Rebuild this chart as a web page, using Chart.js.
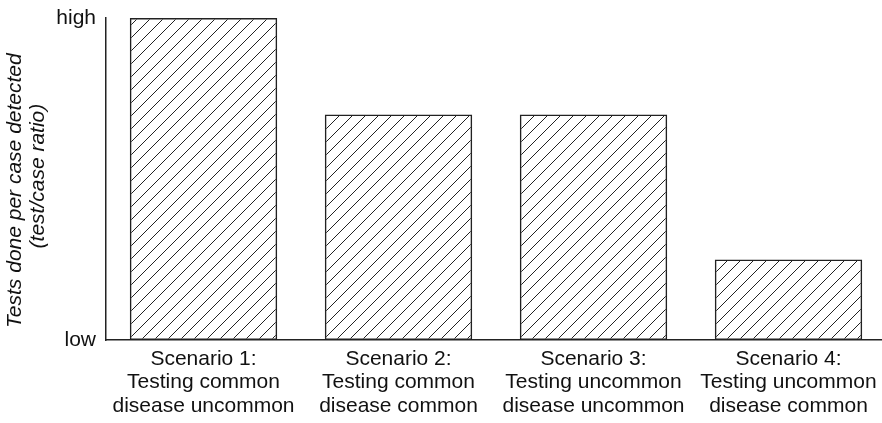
<!DOCTYPE html>
<html>
<head>
<meta charset="utf-8">
<script src="https://cdn.jsdelivr.net/npm/chart.js@4/dist/chart.umd.min.js"></script>
<style>
  html, body { margin: 0; padding: 0; background: #fff; overflow: hidden; }
  #wrap { width: 882px; height: 423px; overflow: hidden; }
  #myChart { display: block; }
</style>
</head>
<body>
<div id="wrap"><canvas id="myChart" width="886" height="423"></canvas></div>
<script>
const scenarios = [
    ['Scenario 1:', 'Testing common', 'disease uncommon'],
    ['Scenario 2:', 'Testing common', 'disease common'],
    ['Scenario 3:', 'Testing uncommon', 'disease uncommon'],
    ['Scenario 4:', 'Testing uncommon', 'disease common']
];
const ratios = [1.0, 0.7, 0.7, 0.25];
const yTickLabels = { 0: 'low', 1: 'high' };
// trailing / leading spaces nudge the two title lines like in the original
const yTitle = ['Tests done per case detected    ', ' (test/case ratio)'];

// diagonal hatch fill
const makeHatch = (size) => {
    const c = document.createElement('canvas');
    c.width = size; c.height = size;
    const g = c.getContext('2d');
    g.strokeStyle = '#222';
    g.lineWidth = 1;
    g.beginPath();
    g.moveTo(0, size); g.lineTo(size, 0);
    g.moveTo(-1, 1); g.lineTo(1, -1);
    g.moveTo(size - 1, size + 1); g.lineTo(size + 1, size - 1);
    g.stroke();
    return g.createPattern(c, 'repeat');
};

Chart.defaults.font.family = '"Liberation Sans", Arial, sans-serif';
Chart.defaults.font.size = 21;
Chart.defaults.color = '#111';

const data = {
    labels: scenarios,
    datasets: [
        {
            data: ratios,
            backgroundColor: makeHatch(13),
            borderColor: '#222',
            borderWidth: 1.5,
            borderSkipped: false,
            barPercentage: 0.756,
            categoryPercentage: 1.0
        }
    ]
};

const config = {
    type: 'bar',
    data: data,
    options: {
        responsive: false,
        animation: false,
        layout: { padding: { top: 18, left: 0, right: 0, bottom: 0 } },
        plugins: {
            legend: { display: false },
            tooltip: { enabled: false }
        },
        scales: {
            x: {
                grid: { display: false, drawTicks: false },
                border: { display: true, color: '#222', width: 1.5 },
                ticks: { padding: 8, maxRotation: 0, autoSkip: false, font: { lineHeight: 1.1 } },
                afterFit: (scale) => { scale.height = 83; scale.paddingLeft = 0; scale.paddingRight = 0; }
            },
            y: {
                min: 0,
                max: 1,
                grid: { display: false, drawTicks: false },
                border: { display: true, color: '#222', width: 1.5 },
                ticks: {
                    stepSize: 1,
                    padding: 10,
                    callback: (v) => yTickLabels[v] || ''
                },
                title: {
                    display: true,
                    text: yTitle,
                    font: { style: 'italic', size: 21, lineHeight: 1.1 },
                    padding: { top: 4, bottom: 0 }
                },
                afterFit: (scale) => { scale.width = 106; scale.paddingTop = 0; scale.paddingBottom = 0; }
            }
        }
    }
};

const ctx = document.getElementById('myChart').getContext('2d');
const chartItem = Chart.getChart('myChart');
if (chartItem) chartItem.destroy();
const chart = new Chart(ctx, config);
</script>
</body>
</html>
